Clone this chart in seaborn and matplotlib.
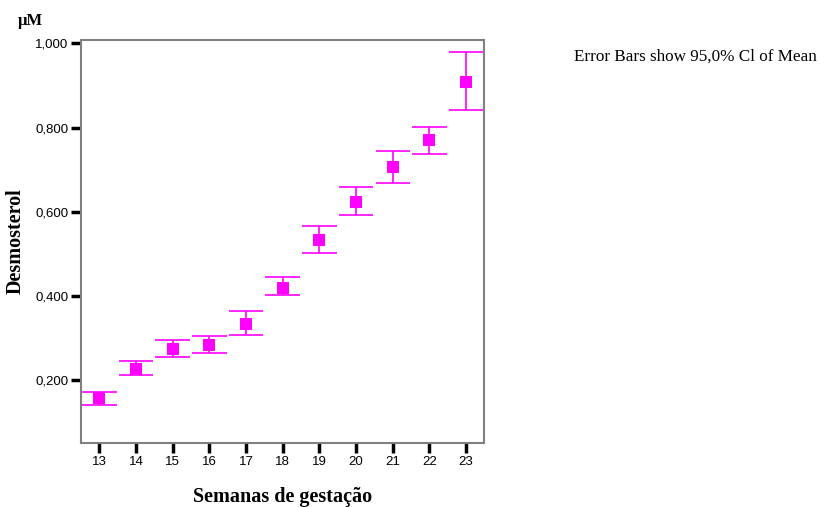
import matplotlib
matplotlib.use("Agg")
import matplotlib.pyplot as plt
import seaborn as sns
import pandas as pd

# Desmosterol by gestational week: mean with 95% CI bounds
weeks = [13, 14, 15, 16, 17, 18, 19, 20, 21, 22, 23]
mean_values = [0.157, 0.226, 0.274, 0.283, 0.333, 0.419, 0.533, 0.624, 0.707, 0.771, 0.909]
ci_lower = [0.141, 0.211, 0.254, 0.264, 0.307, 0.401, 0.502, 0.591, 0.668, 0.738, 0.842]
ci_upper = [0.171, 0.244, 0.294, 0.304, 0.364, 0.444, 0.565, 0.658, 0.745, 0.802, 0.979]
y_ticks = [0.2, 0.4, 0.6, 0.8, 1.0]
y_tick_labels = ["0,200", "0,400", "0,600", "0,800", "1,000"]

df = pd.DataFrame({"week": weeks, "mean": mean_values,
                   "lo": ci_lower, "hi": ci_upper})

sns.set_theme(style="white")
plt.rcParams["font.family"] = ["Liberation Sans", "DejaVu Sans"]
plt.rcParams["text.color"] = "black"
plt.rcParams["axes.labelcolor"] = "black"
plt.rcParams["xtick.color"] = "black"
plt.rcParams["ytick.color"] = "black"
serif = ["Liberation Serif", "DejaVu Serif"]

fig = plt.figure(figsize=(8.29, 5.07), dpi=100)
ax = fig.add_axes([0.0977, 0.1262, 0.4867, 0.7949])

color = "#FF00FF"
cap = 0.47
ax.vlines(df["week"], df["lo"], df["hi"], color=color, lw=1.2, zorder=2)
ax.hlines(df["lo"], df["week"] - cap, df["week"] + cap, color=color, lw=1.2, zorder=2)
ax.hlines(df["hi"], df["week"] - cap, df["week"] + cap, color=color, lw=1.2, zorder=2)
sns.scatterplot(data=df, x="week", y="mean", marker="s", s=70, color=color,
                edgecolor=color, linewidth=0, ax=ax, zorder=3)

ax.set_xlim(12.5, 23.5)
ax.set_ylim(0.05, 1.008)
ax.set_xticks(weeks)
ax.set_xticklabels([str(w) for w in weeks], fontsize=9.5, color="black")
ax.set_yticks(y_ticks)
ax.set_yticklabels(y_tick_labels, fontsize=9.5, color="black")
ax.tick_params(axis="both", direction="out", length=7, width=2.5, color="black",
               labelcolor="black", bottom=True, left=True, pad=2)

for sp in ax.spines.values():
    sp.set_color("#808080")
    sp.set_linewidth(1.5)
    sp.set_visible(True)

ax.set_xlabel("Semanas de gestação", fontsize=14.5, fontweight="bold",
              family=serif, labelpad=14, color="black")
ax.set_ylabel("Desmosterol", fontsize=14.5, fontweight="bold",
              family=serif, labelpad=7, color="black")

fig.text(0.022, 0.958, "µM", fontsize=12, fontweight="bold",
         family=serif, ha="left", va="center", color="black")
fig.text(0.692, 0.889, "Error Bars show 95,0% Cl of Mean", fontsize=12.3,
         family=serif, ha="left", va="center", color="black")

fig.savefig("out.png", dpi=100)
